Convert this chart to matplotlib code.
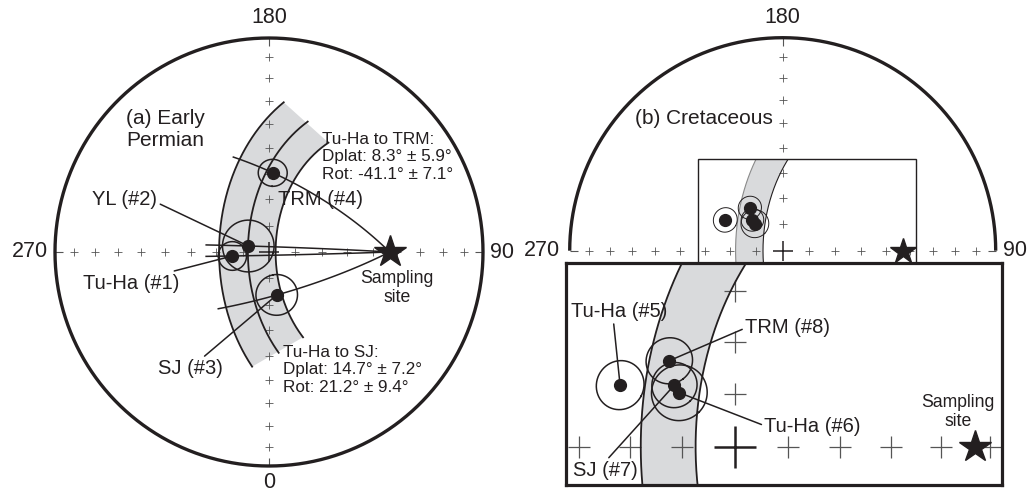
import numpy as np
import matplotlib
matplotlib.use("Agg")
import matplotlib.pyplot as plt
from matplotlib.patches import Rectangle

INK = "#231f20"
TICK = "#555555"
BAND = "#d9dadc"

plt.rcParams.update({
    "font.family": ["Liberation Sans", "DejaVu Sans"],
    "font.size": 14.5,
    "text.color": INK,
})

# ---------------------------------------------------------------------------
# Data: directions as declination / inclination (deg), equal-area net
# ---------------------------------------------------------------------------

SITE_DEC, SITE_INC = 90.0, 43.0
TICK_INC = [80, 70, 60, 50, 40, 30, 20, 10]

# (a) Early Permian
A_LABELS = ["Tu-Ha (#1)", "YL (#2)", "SJ (#3)", "TRM (#4)"]
A_DEC = [276.2, 253.9, 10.2, 177.3]
A_INC = [76.0, 81.8, 73.4, 59.6]
A_A95 = [5.4, 9.8, 7.8, 5.3]
A_TRACK = [71.0, 71.0, 69.0, 68.5]   # great-circle length from the site
A_BAND = [44.5, 55.0, 66.0]          # small circles about the site
A_BAND_SPAN = [-70, 50]              # azimuth range about the site

# (b) Cretaceous
B_LABELS = ["Tu-Ha (#5)", "Tu-Ha (#6)", "SJ (#7)", "TRM (#8)"]
B_DEC = [241.8, 225.9, 224.5, 217.4]
B_INC = [65.0, 75.2, 73.5, 69.3]
B_A95 = [4.6, 5.3, 4.3, 4.4]
B_BAND = [54.5, 65.0]
B_BAND_SPAN = [-60, 30]

A_NOTE_TRM = "Tu-Ha to TRM:\nDplat: 8.3\u00b0 \u00b1 5.9\u00b0\nRot: -41.1\u00b0 \u00b1 7.1\u00b0"
A_NOTE_SJ = "Tu-Ha to SJ:\nDplat: 14.7\u00b0 \u00b1 7.2\u00b0\nRot: 21.2\u00b0 \u00b1 9.4\u00b0"


# ---------------------------------------------------------------------------
# Projection helpers
# ---------------------------------------------------------------------------

def dir2vec(dec, inc):
    d, i = np.broadcast_arrays(np.radians(dec), np.radians(inc))
    return np.stack([np.cos(i) * np.cos(d), np.cos(i) * np.sin(d), np.sin(i)], axis=-1)


def project(v):
    """Equal-area projection, 0 at the bottom, 180 at the top, 90 right."""
    v = np.asarray(v, dtype=float)
    n, e, d = v[..., 0], v[..., 1], v[..., 2]
    theta = np.arccos(np.clip(d, -1, 1))
    r = np.sqrt(2) * np.sin(theta / 2)
    h = np.hypot(n, e)
    h = np.where(h == 0, 1, h)
    return r * e / h, -r * n / h


def eqarea_r(inc):
    return np.sqrt(2) * np.sin(np.radians(90 - np.asarray(inc, dtype=float)) / 2)


def small_circle(dec, inc, alpha, span=(0, 360), n=240):
    s = dir2vec(dec, inc)
    e1 = np.array([0, 0, 1.0]) - s[2] * s
    e1 /= np.linalg.norm(e1)
    e2 = np.cross(s, e1)
    b = np.radians(np.linspace(span[0], span[1], n))[:, None]
    a = np.radians(alpha)
    return project(np.cos(a) * s + np.sin(a) * (np.cos(b) * e1 + np.sin(b) * e2))


def great_circle(dec, inc, to_dec, to_inc, length, n=120):
    s = dir2vec(dec, inc)
    p = dir2vec(to_dec, to_inc)
    u = p - s.dot(p) * s
    u /= np.linalg.norm(u)
    t = np.radians(np.linspace(0, length, n))[:, None]
    return project(np.cos(t) * s + np.sin(t) * u)


# ---------------------------------------------------------------------------
# Figure layout
# ---------------------------------------------------------------------------

W, H = 1029, 495
fig = plt.figure(figsize=(W / 100, H / 100), dpi=100)


def add_net_axes(cx, cy, scale, box, zorder=0):
    x0, y0, x1, y1 = box
    ax = fig.add_axes([x0 / W, 1 - y1 / H, (x1 - x0) / W, (y1 - y0) / H], zorder=zorder)
    ax.set_xlim((x0 - cx) / scale, (x1 - cx) / scale)
    ax.set_ylim((cy - y1) / scale, (cy - y0) / scale)
    ax.set_xticks([])
    ax.set_yticks([])
    ax.patch.set_alpha(0)
    for sp in ax.spines.values():
        sp.set_visible(False)
    return ax


def draw_ticks(ax, down=True, size=6, lw=0.6, center=14, clw=1.1):
    r = eqarea_r(TICK_INC)
    ax.plot(np.r_[-r, r], np.zeros(2 * len(r)), ls="none", marker="+",
            ms=size, mew=lw, color=TICK, zorder=2)
    ys = np.r_[r, -r] if down else r
    ax.plot(np.zeros(len(ys)), ys, ls="none", marker="+",
            ms=size, mew=lw, color=TICK, zorder=2)
    ax.plot([0], [0], marker="+", ms=center, mew=clw, color=INK, zorder=2)


def draw_rim(ax, decs, lw=2.4):
    x, y = project(dir2vec(decs, 0.0))
    ax.plot(x, y, color=INK, lw=lw, zorder=3, solid_capstyle="butt")
    edge = {0: 2, 90: 0, 180: 3, 270: 1}   # inward-pointing tick markers
    for d, m in edge.items():
        if decs[0] <= d <= decs[-1]:
            ex, ey = project(dir2vec(d, 0.0))
            ax.plot([ex], [ey], marker=m, ms=6, mew=0.8, color=TICK, zorder=2)


def rim_label(ax, text, dec, offset, ha, va):
    x, y = project(dir2vec(dec, 0.0))
    ax.annotate(text, (x, y), xytext=offset, textcoords="offset points",
                ha=ha, va=va, fontsize=15.5)


def leader(ax, text, dec, inc, pos, relpos, fs=14.5):
    x, y = project(dir2vec(dec, inc))
    if relpos is None:
        ax.text(pos[0], pos[1], text, ha="center", va="center", fontsize=fs, zorder=6)
        return
    ax.annotate(text, (x, y), xytext=pos, ha="center", va="center", fontsize=fs,
                zorder=6,
                arrowprops=dict(arrowstyle="-", color=INK, lw=1.1,
                                shrinkA=0, shrinkB=0, relpos=relpos))


def poles(ax, decs, incs, a95s, ms=8.5, lw=1.1):
    for d, i, a in zip(decs, incs, a95s):
        cx, cy = small_circle(d, i, a)
        ax.plot(cx, cy, color=INK, lw=lw, zorder=4)
    x, y = project(dir2vec(decs, incs))
    ax.plot(x, y, "o", ms=ms, color=INK, zorder=5)


def band(ax, radii, span, edge_lw, edge_colors, clip=None):
    ox, oy = small_circle(SITE_DEC, SITE_INC, radii[-1], span)
    ix, iy = small_circle(SITE_DEC, SITE_INC, radii[0], span)
    poly, = ax.fill(np.r_[ox, ix[::-1]], np.r_[oy, iy[::-1]], color=BAND, lw=0, zorder=1)
    arts = [poly]
    for rad, col in zip(radii, edge_colors):
        x, y = small_circle(SITE_DEC, SITE_INC, rad, span)
        ln, = ax.plot(x, y, color=col, lw=edge_lw, zorder=3)
        arts.append(ln)
    if clip is not None:
        for a in arts:
            a.set_clip_path(clip)


def site(ax, ms):
    x, y = project(dir2vec(SITE_DEC, SITE_INC))
    ax.plot([x], [y], marker="*", ms=ms, color=INK, mec=INK, zorder=6)


# ---------------------------------------------------------------------------
# (a) Early Permian
# ---------------------------------------------------------------------------

axa = add_net_axes(269, 252, 214, (0, 0, 538, 495))
band(axa, A_BAND, A_BAND_SPAN, 1.3, [INK, INK, INK])
draw_ticks(axa, down=True)
draw_rim(axa, np.linspace(0, 360, 721))
rim_label(axa, "180", 180, (0, 7), "center", "bottom")
rim_label(axa, "0", 0, (0, -4), "center", "top")
rim_label(axa, "270", 270, (-5, 0), "right", "center")
rim_label(axa, "90", 90, (5, 0), "left", "center")

for d, i, L in zip(A_DEC, A_INC, A_TRACK):
    gx, gy = great_circle(SITE_DEC, SITE_INC, d, i, L)
    axa.plot(gx, gy, color=INK, lw=1.1, zorder=3)
poles(axa, A_DEC, A_INC, A_A95)
site(axa, 24)

a_pos = [(-0.646, -0.146), (-0.673, 0.243), (-0.368, -0.544), (0.242, 0.243)]
a_rel = [(0.84, 1.0), (1.0, 0.35), (0.67, 1.0), None]
for lab, d, i, p, rp in zip(A_LABELS, A_DEC, A_INC, a_pos, a_rel):
    leader(axa, lab, d, i, p, rp)

axa.text(-0.486, 0.572, "(a) Early\nPermian", ha="center", va="center",
         fontsize=15, linespacing=1.2)
axa.text(0.250, 0.444, A_NOTE_TRM, ha="left", va="center", fontsize=12.3, linespacing=1.2)
axa.text(0.064, -0.551, A_NOTE_SJ, ha="left", va="center", fontsize=12.3, linespacing=1.2)
axa.text(0.597, -0.168, "Sampling\nsite", ha="center", va="center", fontsize=12.7,
         linespacing=1.15)

# ---------------------------------------------------------------------------
# (b) Cretaceous: upper half-net with zoom box below
# ---------------------------------------------------------------------------

axb = add_net_axes(782.7, 250.7, 213, (538, 0, 1029, 495))
axz = add_net_axes(735, 446.7, 426, (566, 263.3, 1001.7, 485), zorder=2)
axz.patch.set_alpha(1)
axz.set_facecolor("white")
for sp in axz.spines.values():
    sp.set_visible(True)
    sp.set_linewidth(2.3)
    sp.set_color(INK)

zx, zy = axz.get_xlim(), axz.get_ylim()
frame = Rectangle((zx[0], zy[0]), zx[1] - zx[0], zy[1] - zy[0],
                  fill=False, ec=INK, lw=1.0, zorder=4)
axb.add_patch(frame)
clip = Rectangle((zx[0], zy[0]), zx[1] - zx[0], zy[1] - zy[0],
                 transform=axb.transData, visible=False)
axb.add_patch(clip)

band(axb, B_BAND, B_BAND_SPAN, 0.8, [INK, "#8a8a8a"], clip=clip)
draw_ticks(axb, down=False)
draw_rim(axb, np.linspace(90, 270, 361))
rim_label(axb, "180", 180, (0, 7), "center", "bottom")
rim_label(axb, "270", 270, (-7, 0), "right", "center")
rim_label(axb, "90", 90, (5, 0), "left", "center")
poles(axb, B_DEC, B_INC, B_A95, lw=0.7)
site(axb, 19)
axb.text(-0.044, 0.6216, "(b) Cretaceous", ha="right", va="center", fontsize=15)

band(axz, B_BAND, B_BAND_SPAN, 1.3, [INK, INK])
draw_ticks(axz, down=True, size=15.5, lw=0.9, center=30, clw=1.8)
poles(axz, B_DEC, B_INC, B_A95, lw=1.1)
site(axz, 24)

b_pos = [(-0.2718, 0.3169), (0.1819, 0.0469), (-0.3052, -0.0547), (0.1232, 0.2803)]
b_rel = [(0.44, 0.0), (0.03, 0.5), (0.52, 1.0), (0.05, 0.55)]
for lab, d, i, p, rp in zip(B_LABELS, B_DEC, B_INC, b_pos, b_rel):
    leader(axz, lab, d, i, p, rp)
axz.text(0.5242, 0.0822, "Sampling\nsite", ha="center", va="center", fontsize=12.7,
         linespacing=1.15)

fig.savefig("out.png", dpi=100)
